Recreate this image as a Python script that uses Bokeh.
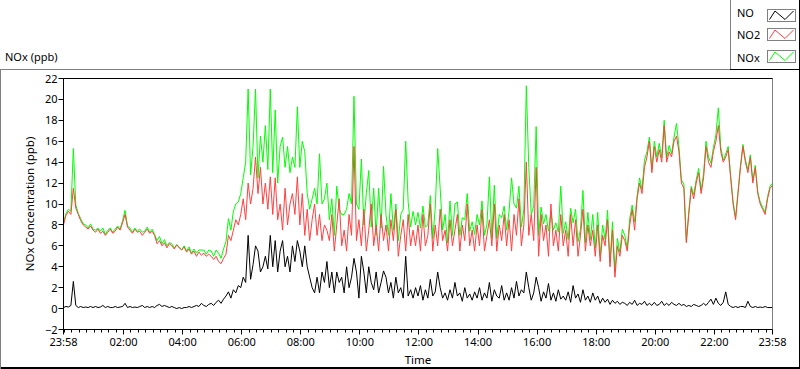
from bokeh.plotting import figure
from bokeh.layouts import column
from bokeh.models import Range1d, FixedTicker, LinearAxis, ColumnDataSource, Div
from bokeh.embed import file_html
from bokeh.resources import INLINE

# readings every 5 minutes starting at 23:58 (24 h -> 289 values)
sample_step_min = 5

no2_ppb = [
    8.0, 8.9, 9.3, 9.0, 11.5, 9.6, 9.0, 8.4, 8.0, 7.8, 7.6, 7.9,
    7.5, 7.3, 7.6, 7.2, 7.4, 7.0, 7.3, 7.6, 7.2, 7.4, 7.8, 7.5,
    8.2, 9.0, 7.8, 7.5, 7.2, 7.6, 7.3, 7.4, 7.0, 7.3, 7.6, 7.2,
    7.4, 7.0, 6.2, 6.5, 6.0, 6.3, 5.8, 6.2, 6.0, 5.7, 6.1, 5.8,
    5.6, 5.9, 5.4, 5.7, 5.2, 5.5, 5.0, 5.4, 5.1, 5.3, 5.0, 5.2,
    5.0, 4.7, 5.0, 4.5, 4.3, 4.8, 5.2, 7.0, 6.5, 7.5, 8.5, 8.0,
    9.0, 10.5, 8.5, 12.0, 10.0, 11.5, 14.5, 11.0, 13.5, 10.0, 12.0, 9.5,
    12.6, 9.0, 12.5, 8.5, 10.0, 7.5, 11.5, 8.0, 10.0, 11.0, 9.0, 12.6,
    8.0, 11.0, 7.0, 9.5, 6.5, 8.5, 10.0, 7.0, 9.0, 6.5, 8.0, 7.5,
    6.5, 9.0, 5.5, 8.0, 10.5, 6.0, 7.5, 5.5, 9.0, 7.0, 15.5, 6.5,
    8.5, 6.0, 9.5, 5.5, 7.5, 10.0, 6.0, 8.0, 5.5, 9.0, 6.5, 8.0,
    5.5, 8.5, 6.5, 9.5, 5.0, 7.0, 8.5, 5.5, 9.0, 6.0, 7.5, 6.0,
    8.0, 5.5, 9.0, 6.0, 7.0, 10.0, 5.5, 8.0, 6.0, 9.5, 6.5, 7.5,
    5.5, 8.5, 6.0, 7.5, 9.0, 5.5, 8.0, 6.5, 10.0, 6.0, 7.5, 5.5,
    8.0, 6.0, 9.5, 5.5, 7.0, 8.5, 6.0, 10.0, 5.5, 8.0, 6.5, 9.0,
    6.0, 8.5, 5.5, 9.0, 7.0, 10.5, 6.0, 8.0, 14.0, 7.0, 9.0, 6.5,
    13.5, 5.0, 9.0, 6.5, 8.0, 5.0, 10.0, 6.0, 7.5, 5.5, 9.0, 6.0,
    7.5, 5.0, 9.0, 6.0, 8.5, 5.0, 7.0, 9.5, 5.5, 8.0, 6.0, 7.5,
    5.0, 8.0, 4.5, 7.0, 6.0, 8.5, 4.0, 7.5, 3.0, 6.0, 5.0, 7.0,
    6.5, 5.5, 8.0, 9.5, 7.5, 10.5, 12.0, 11.0, 13.5, 14.5, 16.0, 13.0,
    15.5, 14.0, 15.2, 14.0, 17.5, 14.0, 15.0, 14.5, 16.0, 16.5, 15.0, 12.0,
    11.5, 6.3, 9.0, 11.5, 10.5, 12.0, 13.0, 11.0, 12.5, 15.5, 14.0, 13.5,
    15.0, 16.0, 17.5, 15.0, 14.0, 14.5, 15.2, 12.5, 10.0, 8.5, 11.0, 13.5,
    15.5, 14.0, 13.0, 14.5, 12.0, 13.5, 11.0, 10.0, 9.5, 9.0, 10.5, 11.5,
    11.8,
]

no_ppb = [
    0.1, 0.2, 0.15, 0.3, 2.6, 0.3, 0.1, 0.2, 0.1, 0.15, 0.1, 0.2,
    0.1, 0.2, 0.1, 0.15, 0.3, 0.1, 0.2, 0.1, 0.1, 0.2, 0.1, 0.15,
    0.2, 0.5, 0.1, 0.2, 0.1, 0.15, 0.1, 0.2, 0.3, 0.1, 0.2, 0.1,
    0.2, 0.1, 0.3, 0.4, 0.2, 0.3, 0.2, 0.1, 0.2, 0.1, 0.0, 0.1,
    0.0, 0.1, 0.1, 0.2, 0.1, 0.2, 0.3, 0.2, 0.5, 0.3, 0.2, 0.4,
    0.5, 0.3, 0.6, 0.8, 0.5, 0.9, 1.2, 1.6, 1.0, 1.8, 1.5, 2.2,
    2.0, 3.0, 2.5, 7.0, 2.8, 4.2, 6.0, 5.5, 3.5, 4.0, 5.0, 3.8,
    7.0, 4.0, 6.5, 3.5, 5.5, 6.5, 4.0, 5.0, 3.5, 6.0, 4.5, 6.5,
    5.5, 4.0, 6.0, 4.0, 3.0, 2.0, 1.5, 3.0, 1.5, 3.5, 2.5, 4.5,
    2.0, 3.5, 1.5, 3.5, 2.5, 3.0, 1.5, 4.0, 2.0, 3.0, 4.8, 3.5,
    1.0, 5.0, 3.5, 1.5, 4.0, 2.5, 1.8, 3.5, 1.5, 2.5, 3.6, 3.0,
    1.5, 2.5, 1.0, 3.0, 1.5, 2.0, 1.0, 5.0, 1.2, 1.8, 1.0, 2.0,
    1.2, 2.2, 0.8, 1.8, 1.0, 2.8, 1.2, 1.6, 3.5, 2.0, 1.0, 1.5,
    0.8, 1.8, 1.0, 2.5, 1.2, 1.5, 0.7, 2.0, 1.0, 1.4, 0.8, 1.6,
    1.0, 2.0, 0.8, 1.5, 1.0, 2.5, 0.7, 1.8, 1.2, 1.0, 2.2, 0.8,
    1.5, 0.8, 2.0, 1.0, 2.6, 1.2, 1.8, 1.5, 3.5, 2.0, 0.8, 1.5,
    3.0, 2.0, 0.7, 1.6, 1.0, 2.4, 0.8, 1.5, 0.7, 1.8, 0.9, 1.2,
    0.8, 1.6, 0.6, 2.2, 1.0, 1.4, 0.6, 1.8, 0.8, 1.2, 0.6, 1.5,
    0.8, 1.2, 0.5, 1.0, 0.6, 0.9, 0.4, 0.8, 0.5, 0.7, 0.4, 0.6,
    0.5, 0.3, 0.6, 0.4, 0.8, 0.3, 0.5, 0.4, 0.7, 0.3, 0.5, 0.3,
    0.6, 0.3, 0.4, 0.7, 0.3, 0.5, 0.3, 0.6, 0.4, 0.3, 0.5, 0.3,
    0.4, 0.2, 0.3, 0.2, 0.4, 0.3, 0.2, 0.3, 0.5, 0.3, 0.6, 0.9,
    0.4, 1.0, 0.5, 0.3, 0.6, 1.6, 0.4, 0.2, 0.1, 0.2, 0.1, 0.2,
    0.2, 0.1, 0.7, 0.2, 0.1, 0.2, 0.1, 0.15, 0.1, 0.2, 0.1, 0.1,
    0.1,
]

nox_ppb = [
    8.2, 9.1, 9.5, 9.3, 15.3, 9.9, 9.1, 8.6, 8.1, 8.0, 7.7, 8.1,
    7.6, 7.5, 7.7, 7.4, 7.7, 7.1, 7.5, 7.7, 7.3, 7.6, 7.9, 7.6,
    8.4, 9.4, 7.9, 7.7, 7.3, 7.7, 7.4, 7.6, 7.3, 7.4, 7.8, 7.3,
    7.6, 7.1, 6.5, 6.9, 6.2, 6.6, 6.0, 6.3, 6.2, 5.8, 6.1, 5.9,
    5.6, 6.0, 5.5, 5.9, 5.3, 5.7, 5.3, 5.6, 5.6, 5.6, 5.2, 5.6,
    5.5, 5.0, 5.6, 5.3, 4.8, 5.7, 6.4, 8.6, 7.5, 9.3, 10.0, 10.2,
    11.0, 12.5, 14.0, 21.0, 12.8, 15.5, 21.0, 12.5, 16.5, 14.0, 17.5, 13.3,
    21.0, 13.0, 19.0, 12.0, 15.5, 16.4, 13.5, 15.5, 13.0, 14.5, 13.5, 19.3,
    13.5, 16.0, 15.0, 11.0, 9.5, 10.5, 11.5, 10.0, 14.8, 10.0, 10.5, 12.0,
    8.5, 10.5, 7.0, 11.7, 9.5, 9.0, 9.0, 9.5, 11.0, 10.0, 20.3, 10.0,
    9.5, 14.3, 8.0, 11.0, 13.2, 7.8, 11.5, 7.0, 11.5, 7.7, 13.6, 9.0,
    7.0, 11.0, 7.5, 10.0, 6.5, 9.0, 9.5, 16.0, 10.2, 7.8, 9.3, 8.0,
    9.2, 7.7, 9.8, 7.8, 8.0, 10.8, 6.7, 9.6, 15.3, 11.5, 7.5, 9.0,
    6.3, 10.3, 7.0, 10.0, 10.2, 7.0, 8.7, 8.5, 11.0, 7.4, 8.3, 7.1,
    9.0, 8.0, 10.3, 7.0, 8.0, 12.6, 6.7, 11.8, 6.7, 9.0, 8.7, 9.8,
    7.5, 9.3, 12.5, 10.0, 9.6, 11.7, 7.8, 9.5, 21.3, 13.5, 9.0, 9.8,
    17.4, 7.0, 9.7, 8.1, 9.0, 7.4, 9.3, 7.5, 8.2, 7.3, 11.7, 7.2,
    8.3, 6.6, 9.6, 8.2, 9.5, 6.4, 7.6, 11.3, 6.3, 9.2, 6.6, 9.0,
    5.8, 9.2, 5.0, 8.0, 6.6, 9.4, 4.4, 8.3, 3.5, 6.7, 5.4, 7.6,
    7.0, 5.8, 8.6, 9.9, 8.3, 10.8, 12.5, 11.4, 14.2, 15.0, 16.4, 13.3,
    16.0, 14.5, 15.8, 14.4, 18.0, 14.4, 15.6, 14.8, 16.4, 17.7, 15.5, 12.3,
    11.9, 6.5, 9.3, 11.7, 10.9, 12.3, 13.4, 11.3, 12.9, 16.0, 14.5, 13.9,
    15.4, 16.6, 19.2, 15.4, 14.2, 14.8, 15.5, 12.7, 10.2, 8.7, 11.2, 13.7,
    15.7, 14.2, 13.3, 14.7, 12.2, 13.7, 11.2, 10.2, 9.7, 9.2, 10.7, 11.7,
    12.0,
]

# axis ticks: minutes after 23:58
x_tick_minutes = [0, 122, 242, 362, 482, 602, 722, 842, 962, 1082, 1202, 1322, 1440]
x_tick_labels = ["23:58", "02:00", "04:00", "06:00", "08:00", "10:00", "12:00",
                 "14:00", "16:00", "18:00", "20:00", "22:00", "23:58"]
y_ticks = [-2, 0, 2, 4, 6, 8, 10, 12, 14, 16, 18, 20, 22]

series_names = ["NO", "NO2", "NOx"]
series_colors = ["#000000", "#ff4040", "#00ff00"]

FONT = "Noto Sans"
GRAY = "#808080"

PAGE_W = 800
HEAD_H = 70            # header rows 0..69
MAIN_H = 299           # chart rows 70..368

# ---------------- header: unit caption and legend (HTML) ----------------
def abs_box(left, top, w, h, extra):
    return (f'<div style="position:absolute;left:{left}px;top:{top}px;width:{w}px;'
            f'height:{h}px;box-sizing:border-box;{extra}"></div>')

parts = []
parts.append(abs_box(0, HEAD_H - 1, 730, 1, f"background:{GRAY};"))          # frame top edge
parts.append(abs_box(730, 0, 1, HEAD_H, f"background:{GRAY};"))              # legend left edge
parts.append(abs_box(730, HEAD_H - 1, PAGE_W - 730, 1, "background:#000;"))  # legend bottom edge
parts.append(abs_box(PAGE_W - 1, 0, 1, HEAD_H, "background:#000;"))          # legend right edge
parts.append('<span style="position:absolute;left:5px;top:50px;line-height:13px;'
             'white-space:nowrap;">NOx (ppb)</span>')
text_tops = [6, 28, 51]
box_tops = [9, 28, 50]
for name, color, tt, bt in zip(series_names, series_colors, text_tops, box_tops):
    parts.append(f'<span style="position:absolute;left:737px;top:{tt}px;line-height:13px;'
                 f'white-space:nowrap;">{name}</span>')
    parts.append(
        f'<svg style="position:absolute;left:767px;top:{bt}px;" width="29" height="13" '
        f'xmlns="http://www.w3.org/2000/svg">'
        f'<rect x="0.5" y="0.5" width="28" height="12" fill="#ffffff" stroke="{GRAY}" stroke-width="1"/>'
        f'<polyline points="2.5,10.5 8,2 18,10.5 26.5,2" fill="none" stroke="{color}" stroke-width="1"/>'
        f'</svg>')

header_html = (f'<div style="position:relative;width:{PAGE_W}px;height:{HEAD_H}px;'
               f'font-family:\'{FONT}\';font-size:11px;color:#000;">' + "".join(parts) + "</div>")
header = Div(text=header_html, width=PAGE_W, height=HEAD_H,
             styles={"margin": "0", "padding": "0"})

# ---------------- main chart ----------------
p = figure(width=PAGE_W, height=MAIN_H, output_backend="svg", toolbar_location=None, title=None,
           x_range=Range1d(0, 1440), y_range=Range1d(-2, 22),
           min_border_left=63, min_border_right=28, min_border_top=8, min_border_bottom=39,
           styles={"box-shadow": f"inset 1px 0px 0px 0px {GRAY}, inset -1px -2px 0px 0px #000000"})
p.grid.visible = False
p.outline_line_color = GRAY
p.background_fill_color = "white"
p.border_fill_alpha = 0

def series_source(vals):
    return ColumnDataSource(dict(t=[i * sample_step_min for i in range(len(vals))], v=vals))

# draw order: NOx, NO2, NO (NO on top)
p.line("t", "v", source=series_source(nox_ppb), line_color=series_colors[2], line_width=1)
p.line("t", "v", source=series_source(no2_ppb), line_color=series_colors[1], line_width=1)
p.line("t", "v", source=series_source(no_ppb), line_color=series_colors[0], line_width=1)

minor = list(range(2, 1440, 15))
p.xaxis.ticker = FixedTicker(ticks=x_tick_minutes, minor_ticks=minor)
p.xaxis.major_label_overrides = {t: l for t, l in zip(x_tick_minutes, x_tick_labels)}
p.yaxis.ticker = FixedTicker(ticks=y_ticks, minor_ticks=[])

for ax in (p.xaxis[0], p.yaxis[0]):
    ax.axis_line_color = "black"
    ax.major_tick_line_color = "black"
    ax.minor_tick_line_color = "black"
    ax.major_tick_in = 0
    ax.minor_tick_in = 0
    ax.major_label_text_font = FONT
    ax.major_label_text_font_size = "11px"
    ax.major_label_text_color = "black"
    ax.axis_label_text_font = FONT
    ax.axis_label_text_font_size = "11.5px"
    ax.axis_label_text_font_style = "normal"
    ax.axis_label_text_color = "black"

p.xaxis.major_tick_out = 5
p.xaxis.minor_tick_out = 3
p.xaxis.major_label_standoff = -1
p.xaxis.axis_label_standoff = 0
p.yaxis.major_tick_out = 5
p.yaxis.minor_tick_out = 0
p.yaxis.major_label_standoff = 1
p.yaxis.axis_label_standoff = 5
p.xaxis.axis_label = "Time"
p.yaxis.axis_label = "NOx Concentration (ppb)"

# black top edge of the plot area
top_edge = LinearAxis(ticker=FixedTicker(ticks=[]), major_label_text_font_size="0px",
                      major_label_standoff=0, axis_label_standoff=0,
                      major_tick_out=0, major_tick_in=0, minor_tick_out=0, minor_tick_in=0,
                      axis_line_color="black")
p.add_layout(top_edge, "above")

layout = column(header, p, spacing=0)
open("out.html", "w").write(file_html(layout, INLINE))
